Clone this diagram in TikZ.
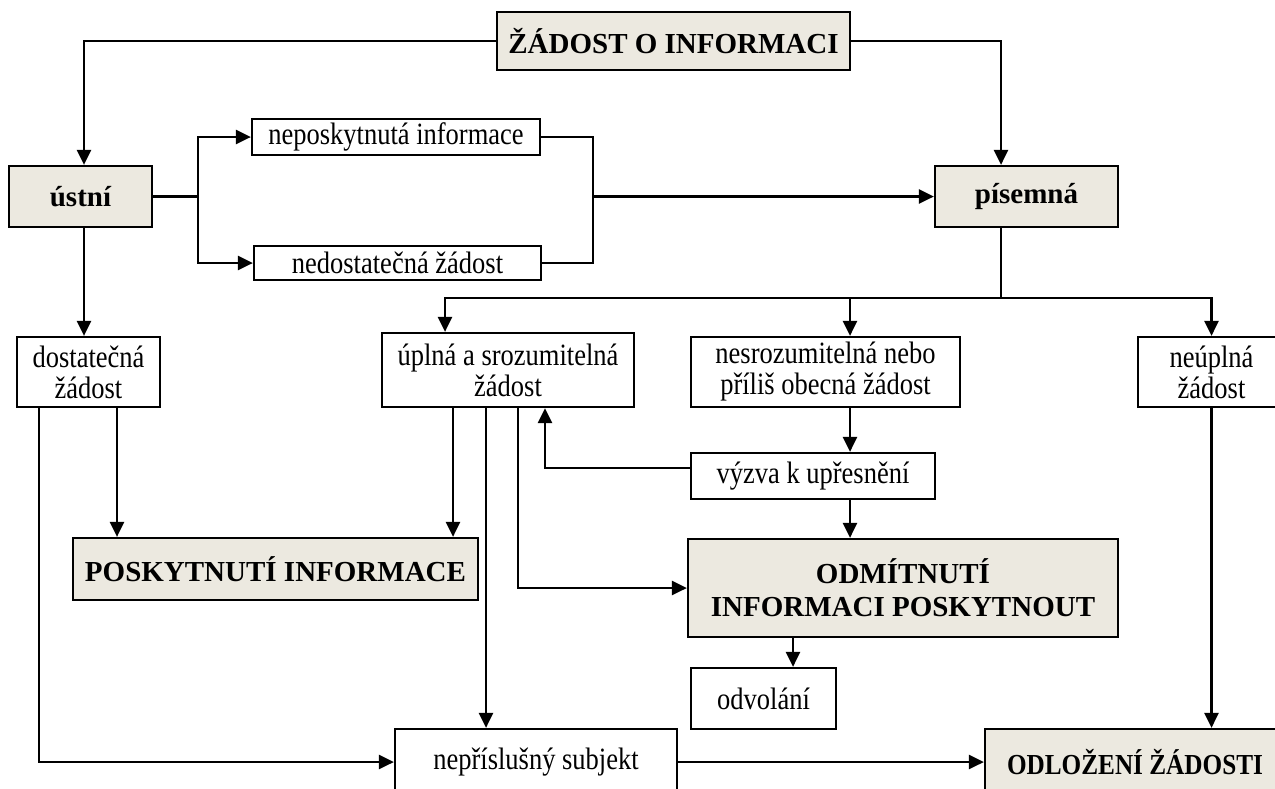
\documentclass[tikz,border=0pt]{standalone}
\usepackage{fontspec}
\setmainfont{Liberation Serif}
\newfontfamily\narrowserif{Liberation Serif}[FakeStretch=0.855]
\newfontfamily\narrowbold{Liberation Serif}[FakeStretch=0.87]
\usetikzlibrary{arrows.meta,positioning}
\definecolor{boxfill}{RGB}{236,233,224}

\begin{document}
\begin{tikzpicture}[x=1pt,y=-1pt,
  box/.style={draw,line width=2.2pt,inner sep=0pt,align=center,font=\narrowserif\fontsize{31}{31}\selectfont},
  hbox/.style={box,fill=boxfill,font=\fontsize{29}{33}\selectfont\bfseries},
  arr/.style={line width=2.6pt,-{Triangle[length=15pt,width=14pt]}},
  ln/.style={line width=2.6pt}]
\clip (0,0) rectangle (1275,788);
% boxes
\node[hbox,minimum width=353pt,minimum height=58pt] (zadost) at (673.5,41) {ŽÁDOST O INFORMACI};
\node[hbox,minimum width=143pt,minimum height=61pt] (ustni) at (80.5,196.5) {ústní};
\node[hbox,minimum width=183pt,minimum height=61pt] (pisemna) at (1026.5,196.5) {písemná};
\node[box,minimum width=288pt,minimum height=36pt] (neposk) at (396,137) {neposkytnutá informace};
\node[box,minimum width=287pt,minimum height=34pt] (nedost) at (397.5,263) {nedostatečná žádost};
\node[box,minimum width=143pt,minimum height=70pt] (dostat) at (88.5,372) {dostatečná\\žádost};
\node[box,minimum width=252pt,minimum height=74pt] (uplna) at (508,370) {úplná a srozumitelná\\žádost};
\node[box,minimum width=269pt,minimum height=70pt] (nesroz) at (825.5,372) {nesrozumitelná nebo\\příliš obecná žádost};
\node[box,minimum width=147pt,minimum height=70pt] (neupl) at (1211.5,372) {neúplná\\žádost};
\node[box,minimum width=244pt,minimum height=46pt] (vyzva) at (813,476) {výzva k upřesnění};
\node[hbox,minimum width=405pt,minimum height=62pt] (poskyt) at (275.5,569) {POSKYTNUTÍ INFORMACE};
\node[hbox,minimum width=430pt,minimum height=98pt] (odmit) at (903,588) {ODMÍTNUTÍ\\INFORMACI POSKYTNOUT};
\node[box,minimum width=145pt,minimum height=61pt] (odvol) at (763.5,698.5) {odvolání};
\node[box,minimum width=282pt,minimum height=66pt] (neprisl) at (536,762) {nepříslušný subjekt};
\node[hbox,font=\narrowbold\fontsize{29}{33}\selectfont\bfseries,minimum width=300pt,minimum height=66pt] (odloz) at (1135,762) {ODLOŽENÍ ŽÁDOSTI};
% connectors
\draw[arr] (zadost.west) -| ([xshift=3.5pt]ustni.north);
\draw[arr] (zadost.east) -| ([xshift=-25.5pt]pisemna.north);
\draw[ln] (ustni.east) -- ++(45,0) coordinate (ustnisplit);
\draw[arr] (ustnisplit) |- (neposk.west);
\draw[arr] (ustnisplit) |- (nedost.west);
\draw[ln] (neposk.east) -- ++(52,0) coordinate (pisjoin) |- (nedost.east);
\draw[arr] (pisjoin |- pisemna.west) -- (pisemna.west);
\draw[ln] ([xshift=-25.5pt]pisemna.south) -- ++(0,70) coordinate (fork);
\draw[arr] (fork) -| ([xshift=-63pt]uplna.north);
\draw[arr] (fork) -| ([xshift=24.5pt]nesroz.north);
\draw[arr] (fork) -| (neupl.north);
\draw[arr] ([xshift=3.5pt]ustni.south) coordinate (a1) -- (a1 |- dostat.north);
\draw[arr] ([xshift=-49.5pt]dostat.south) |- (neprisl.west);
\draw[arr] ([xshift=28.5pt]dostat.south) coordinate (a2) -- (a2 |- poskyt.north);
\draw[arr] ([xshift=-55pt]uplna.south) coordinate (a3) -- (a3 |- poskyt.north);
\draw[arr] ([xshift=-22pt]uplna.south) coordinate (a4) -- (a4 |- neprisl.north);
\draw[arr] ([xshift=10pt]uplna.south) |- (odmit.west);
\draw[arr] ([yshift=8pt]vyzva.west) -| ([xshift=37pt]uplna.south);
\draw[arr] ([xshift=24.5pt]nesroz.south) coordinate (a5) -- (a5 |- vyzva.north);
\draw[arr] ([xshift=37pt]vyzva.south) coordinate (a6) -- (a6 |- odmit.north);
\draw[arr] ([xshift=-110pt]odmit.south) coordinate (a7) -- (a7 |- odvol.north);
\draw[arr] (neupl.south) -- (neupl.south |- odloz.north);
\draw[arr] (neprisl.east) -- (odloz.west);
\end{tikzpicture}
\end{document}
